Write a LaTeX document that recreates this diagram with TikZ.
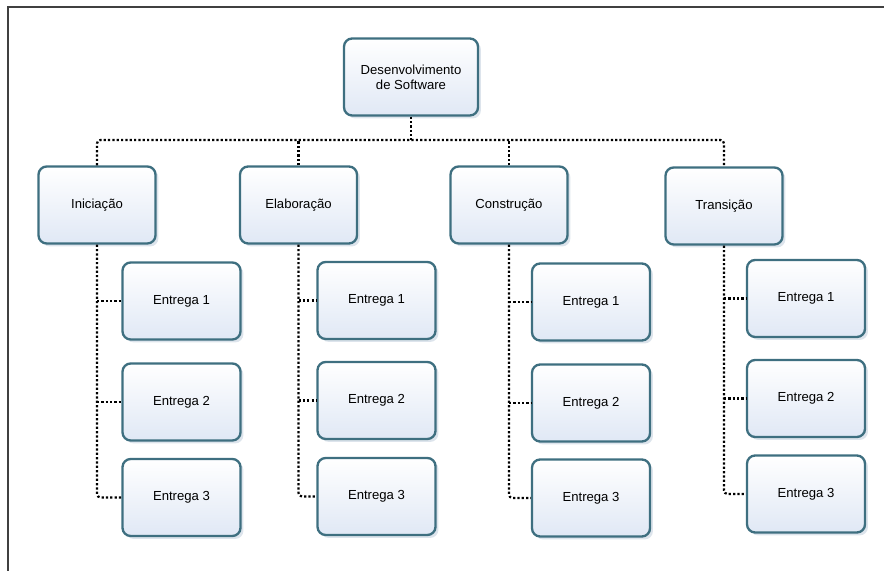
\documentclass[tikz,border=0pt]{standalone}
\usepackage{fontspec}
\setmainfont{Liberation Sans}
\usepackage{tikz}
\usetikzlibrary{shadows}

\definecolor{boxline}{HTML}{3E6F80}
\definecolor{boxfill}{HTML}{E0E8F5}
\definecolor{boxshade}{HTML}{9DB3C8}

\tikzset{
    box/.style={draw=boxline, line width=2pt, rounded corners=7pt,
        top color=white, bottom color=boxfill, align=center,
        font=\fontsize{11.2}{12.5}\selectfont, inner sep=0pt,
        drop shadow={shadow xshift=2.5pt, shadow yshift=-2.5pt, fill=boxshade, opacity=0.35}},
    phase/.style={box, minimum width=3.51cm, minimum height=2.31cm},
    item/.style={box, minimum width=3.54cm, minimum height=2.31cm},
    link/.style={line width=1.9pt, dash pattern=on 1.9pt off 1.8pt, rounded corners=3pt}
}

\begin{document}
\begin{tikzpicture}
    \useasboundingbox (0,0) rectangle (26.52,-17.13);

    % Draw the frame
    \draw[line width=1.2pt, black!75] (0.24,-17.13) -- (0.24,-0.21) -- (26.52,-0.21);

    % Draw the boxes
    \node[box, minimum width=4.02cm, minimum height=2.31cm] (dev) at (12.33,-2.31) {Desenvolvimento\\de Software};

    \node[phase] (ini) at (2.91,-6.15) {Iniciação};
    \node[phase] (ela) at (8.955,-6.15) {Elaboração};
    \node[phase] (con) at (15.27,-6.15) {Construção};
    \node[phase] (tra) at (21.72,-6.18) {Transição};

    \node[item] (ini1) at (5.445,-9.03) {Entrega 1};
    \node[item] (ini2) at (5.445,-12.06) {Entrega 2};
    \node[item] (ini3) at (5.445,-14.925) {Entrega 3};

    \node[item] (ela1) at (11.295,-9.015) {Entrega 1};
    \node[item] (ela2) at (11.295,-12.015) {Entrega 2};
    \node[item] (ela3) at (11.295,-14.895) {Entrega 3};

    \node[item] (con1) at (17.73,-9.06) {Entrega 1};
    \node[item] (con2) at (17.73,-12.09) {Entrega 2};
    \node[item] (con3) at (17.73,-14.94) {Entrega 3};

    \node[item] (tra1) at (24.18,-8.955) {Entrega 1};
    \node[item] (tra2) at (24.18,-11.955) {Entrega 2};
    \node[item] (tra3) at (24.18,-14.82) {Entrega 3};

    % Draw the dotted links
    \coordinate (bus) at (12.33,-4.2);
    \draw[link] (dev.south) -- (bus);
    \draw[link] (ini.north) |- (bus) -| (tra.north);
    \draw[link] (ela.north) -- (ela.north |- bus);
    \draw[link] (con.north) -- (con.north |- bus);

    \draw[link] (ini.south) |- (ini3.west);
    \draw[link] (ini.south |- ini1.west) -- (ini1.west);
    \draw[link] (ini.south |- ini2.west) -- (ini2.west);

    \draw[link] (ela.south) |- (ela3.west);
    \draw[link] (ela.south |- ela1.west) -- (ela1.west);
    \draw[link] (ela.south |- ela2.west) -- (ela2.west);

    \draw[link] (con.south) |- (con3.west);
    \draw[link] (con.south |- con1.west) -- (con1.west);
    \draw[link] (con.south |- con2.west) -- (con2.west);

    \draw[link] (tra.south) |- (tra3.west);
    \draw[link] (tra.south |- tra1.west) -- (tra1.west);
    \draw[link] (tra.south |- tra2.west) -- (tra2.west);
\end{tikzpicture}
\end{document}
